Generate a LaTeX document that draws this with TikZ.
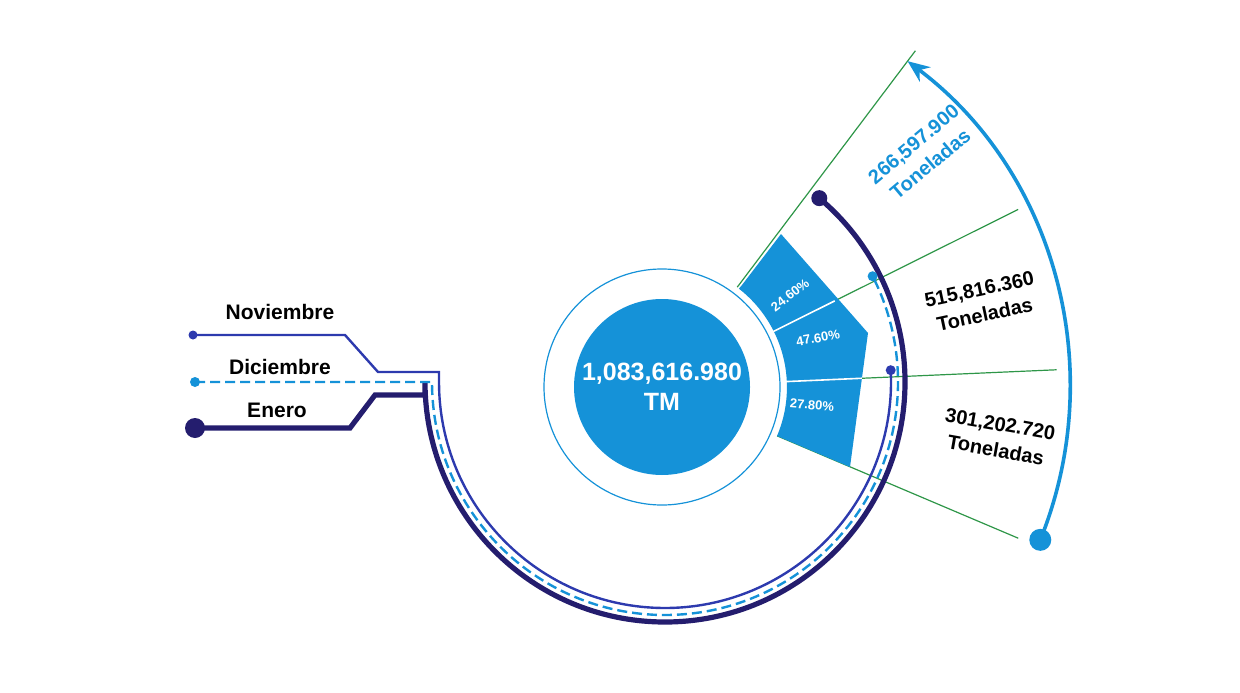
\documentclass[tikz,border=0pt]{standalone}
\usepackage{fontspec}
\setmainfont{Liberation Sans}
\usetikzlibrary{arrows.meta,positioning,calc}
\definecolor{mainblue}{HTML}{1592D8}
\definecolor{navy}{HTML}{241D6E}
\definecolor{midblue}{HTML}{2D3AAE}
\definecolor{raygreen}{HTML}{2E9648}
\tikzset{
  ray/.style={raygreen,line width=0.6pt},
  pct/.style={white,font=\bfseries\fontsize{6.5}{7}\selectfont},
  amount/.style={font=\bfseries\fontsize{10}{13}\selectfont,align=center},
  month/.style={font=\bfseries\fontsize{10.5}{12}\selectfont},
  dot/.style={circle,inner sep=0pt,minimum size=#1}
}
\begin{document}
\begin{tikzpicture}[x=0.5pt,y=0.5pt]
  \useasboundingbox (0,0) rectangle (1240,692);
  \coordinate (C) at (662,305);
  % green rays
  \draw[ray] ($(C)+(53:125)$) -- ($(C)+(53:421)$);
  \draw[ray] ($(C)+(26.5:125)$) -- ($(C)+(26.5:398)$);
  \draw[ray] ($(C)+(2.5:125)$) -- ($(C)+(2.5:395)$);
  \draw[ray] ($(C)+(-23:125)$) -- ($(C)+(-23:387)$);
  % share wedge
  \fill[mainblue] (742,407) -- (781,458) -- (868,359) -- (850,225) -- (777,256)
    arc[start angle=-23,end angle=52,radius=125] -- cycle;
  \draw[white,line width=0.8pt] ($(C)+(26.5:120)$) -- ($(C)+(26.5:193)$);
  \draw[white,line width=0.8pt] ($(C)+(2.5:120)$) -- ($(C)+(2.5:200)$);
  \node[pct,rotate=38] at (790,397) {24.60\%};
  \node[pct,rotate=10] at (818,354) {47.60\%};
  \node[pct,rotate=-5] at (812,287) {27.80\%};
  % total
  \draw[mainblue,line width=0.6pt] (C) circle[radius=118];
  \node[circle,fill=mainblue,minimum size=176pt*0.5,inner sep=0pt,text=white,
    font=\bfseries\fontsize{12.5}{15}\selectfont,align=center] (total) at (C)
    {1,083,616.980\\TM};
  % months
  \node[dot=10pt,fill=navy] (ene) at (195,264) {};
  \node[dot=5pt,fill=mainblue] (dic) at (195,310) {};
  \node[dot=4.5pt,fill=midblue] (nov) at (193,357) {};
  \draw[navy,line width=2.6pt] (ene.center) -- (350,264) -- (375,297) -- (425,297)
    -- (425,310) arc[start angle=180,end angle=410,radius=240] coordinate (eneEnd);
  \node[dot=8pt,fill=navy] at (eneEnd) {};
  \draw[mainblue,line width=1.2pt,dash pattern=on 5pt off 2.5pt] (dic.center) -- (432,310)
    arc[start angle=180,end angle=387,radius=233] coordinate (dicEnd);
  \node[dot=5pt,fill=mainblue] at (dicEnd) {};
  \draw[midblue,line width=1.2pt] (nov.center) -- (345,357) -- (378,320) -- (439,320)
    -- (439,310) arc[start angle=180,end angle=363,radius=226] coordinate (novEnd);
  \node[dot=5pt,fill=midblue] at (novEnd) {};
  \node[month] at (280,380) {Noviembre};
  \node[month] at (280,325) {Diciembre};
  \node[month] at (277,282) {Enero};
  % outer arrow
  \node[dot=11pt,fill=mainblue] (start) at ($(C)+(-22:408)$) {};
  \draw[mainblue,line width=1.8pt,-{Stealth[length=11pt,width=9pt]}] (start.center)
    arc[start angle=-22,end angle=53,radius=408];
  % amounts
  \node[amount,text=mainblue,rotate=40] at (922,538) {266,597.900\\Toneladas};
  \node[amount,rotate=12] at (982,390) {515,816.360\\Toneladas};
  \node[amount,rotate=-10] at (998,255) {301,202.720\\Toneladas};
\end{tikzpicture}
\end{document}
